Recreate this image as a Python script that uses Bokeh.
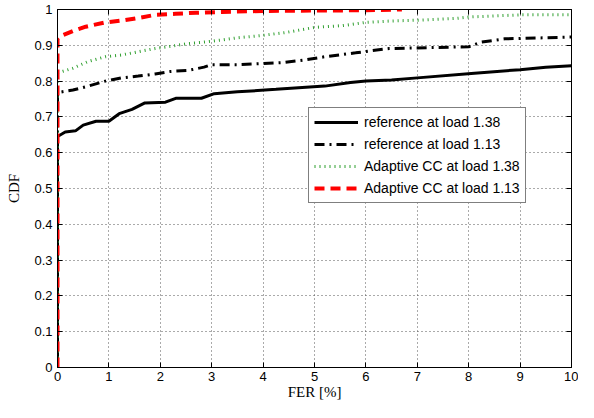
from bokeh.plotting import figure
from bokeh.models import Range1d, FixedTicker, LinearAxis, Legend, LegendItem
from bokeh.embed import file_html
from bokeh.resources import INLINE

# ---- data ----
ref138_x = [0, 0, 0.15, 0.35, 0.5, 0.75, 1.0, 1.2, 1.45, 1.7, 2.1, 2.3, 2.8, 3.05, 3.5,
            4.25, 5.2, 5.7, 6.0, 6.5, 7.0, 8.05, 9.0, 9.5, 10]
ref138_y = [0, 0.645, 0.658, 0.661, 0.677, 0.688, 0.688, 0.709, 0.721, 0.739, 0.741, 0.752,
            0.752, 0.765, 0.770, 0.777, 0.786, 0.796, 0.800, 0.803, 0.809, 0.821, 0.832,
            0.839, 0.843]

ref113_x = [0, 0, 0.3, 0.6, 0.93, 1.25, 1.57, 1.9, 2.2, 2.55, 2.85, 3.0, 3.5, 4.4, 4.8, 5.2,
            5.8, 6.45, 8.0, 8.25, 8.7, 10]
ref113_y = [0, 0.768, 0.775, 0.786, 0.800, 0.809, 0.814, 0.820, 0.827, 0.830, 0.839, 0.846,
            0.846, 0.852, 0.859, 0.868, 0.879, 0.891, 0.896, 0.909, 0.918, 0.923]

acc138_x = [0, 0, 0.3, 0.6, 0.93, 1.25, 1.57, 1.9, 2.2, 2.55, 2.85, 3.2, 3.5, 3.95, 4.45,
            5.0, 5.55, 6.0, 6.5, 7.0, 7.75, 8.0, 9.0, 10]
acc138_y = [0, 0.823, 0.836, 0.855, 0.868, 0.873, 0.882, 0.891, 0.897, 0.905, 0.909, 0.915,
            0.921, 0.927, 0.936, 0.950, 0.955, 0.964, 0.968, 0.970, 0.975, 0.979, 0.985, 0.985]

acc113_x = [0, 0, 0.05, 0.3, 0.55, 0.9, 1.3, 1.6, 1.9, 2.3, 2.7, 3.2, 4.0, 5.0, 6.0, 6.7]
acc113_y = [0, 0.918, 0.925, 0.940, 0.952, 0.963, 0.970, 0.977, 0.985, 0.988, 0.991, 0.993,
            0.996, 0.997, 0.998, 1.0]

series_names = ["reference at load 1.38", "reference at load 1.13",
                "Adaptive CC at load 1.38", "Adaptive CC at load 1.13"]

x_ticks = [0, 1, 2, 3, 4, 5, 6, 7, 8, 9, 10]
y_ticks = [0, 0.1, 0.2, 0.3, 0.4, 0.5, 0.6, 0.7, 0.8, 0.9, 1]
y_tick_labels = ["0", "0.1", "0.2", "0.3", "0.4", "0.5", "0.6", "0.7", "0.8", "0.9", "1"]

SANS = "Liberation Sans"
SERIF = "Liberation Serif"

p = figure(width=578, height=402, x_range=Range1d(0, 10), y_range=Range1d(0, 1),
           output_backend="svg", toolbar_location=None,
           min_border_left=57, min_border_right=7, min_border_top=9, min_border_bottom=35)
p.background_fill_color = "white"
p.border_fill_color = "white"
p.outline_line_color = "black"
p.outline_line_width = 1

xt = FixedTicker(ticks=x_ticks)
yt = FixedTicker(ticks=y_ticks)

for ax in (p.xaxis[0], p.yaxis[0]):
    ax.major_tick_in = 5
    ax.major_tick_out = 0
    ax.minor_tick_line_color = None
    ax.axis_line_color = "black"
    ax.major_tick_line_color = "black"
    ax.major_label_text_font = SANS
    ax.major_label_text_font_size = "13px"
    ax.major_label_text_color = "black"
    ax.axis_label_text_font = SERIF
    ax.axis_label_text_font_size = "15px"
    ax.axis_label_text_font_style = "normal"
    ax.axis_label_text_color = "black"

p.xaxis[0].ticker = xt
p.yaxis[0].ticker = yt
p.yaxis[0].major_label_overrides = {t: l for t, l in zip(y_ticks, y_tick_labels)}
p.xaxis[0].axis_label = "FER [%]"
p.yaxis[0].axis_label = "CDF"
p.xaxis[0].major_label_standoff = 4
p.xaxis[0].axis_label_standoff = 0
p.yaxis[0].major_label_standoff = 5
p.yaxis[0].axis_label_standoff = 9

for loc, tk in (("right", yt), ("above", xt)):
    a = LinearAxis(ticker=tk, major_tick_in=5, major_tick_out=0, minor_tick_line_color=None,
                   major_label_text_font_size="0px", major_label_text_color=None,
                   major_label_standoff=0,
                   axis_line_color="black", major_tick_line_color="black")
    p.add_layout(a, loc)

p.xgrid.ticker = xt
p.ygrid.ticker = yt
for g in (p.xgrid[0], p.ygrid[0]):
    g.grid_line_color = "#555555"
    g.grid_line_dash = "1 3"
    g.grid_line_width = 1

r1 = p.line(ref138_x, ref138_y, line_color="black", line_width=3)
r2 = p.line(ref113_x, ref113_y, line_color="black", line_width=3, line_dash="10 5 2 5")
r3 = p.line(acc138_x, acc138_y, line_color="#2f9f2f", line_width=3, line_dash="1 4")
r4 = p.line(acc113_x, acc113_y, line_color="#ff0000", line_width=4, line_dash="10 6")

legend = Legend(items=[LegendItem(label=n, renderers=[r]) for n, r in zip(series_names, [r1, r2, r3, r4])],
                location=(251, 164), orientation="vertical",
                label_text_font=SANS, label_text_font_size="14px", label_text_color="black",
                glyph_width=44, glyph_height=18, label_height=18, label_standoff=6,
                spacing=4, padding=5, margin=0,
                border_line_color="black", border_line_width=1,
                background_fill_color="white", background_fill_alpha=1)
p.add_layout(legend)

open("out.html", "w").write(file_html(p, INLINE))
